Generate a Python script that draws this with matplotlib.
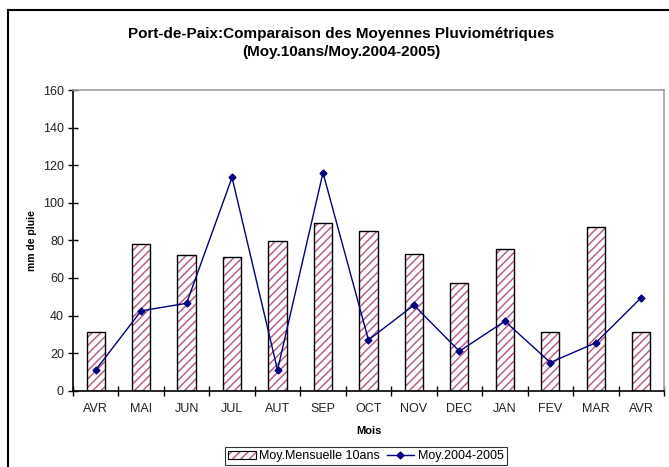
import numpy as np
import matplotlib
matplotlib.use('Agg')
import matplotlib.pyplot as plt
from matplotlib.lines import Line2D

plt.rcParams['font.family'] = ['Liberation Sans', 'DejaVu Sans']
plt.rcParams['hatch.linewidth'] = 1.1

mois = ['AVR', 'MAI', 'JUN', 'JUL', 'AUT', 'SEP', 'OCT',
        'NOV', 'DEC', 'JAN', 'FEV', 'MAR', 'AVR']
moy_10ans = [31, 78, 72, 71, 79.5, 89, 85, 72.5, 57.5, 75.5, 31, 87, 31]
moy_2004_2005 = [11, 42.5, 46.5, 113.5, 11, 116, 27, 45.5, 21, 37, 15, 25.5, 49.5]

hatch_clr = '#b8608c'
line_clr = '#000080'

fig = plt.figure(figsize=(6.69, 4.67), dpi=100)
ax = fig.add_axes([0.109, 0.1634, 0.8835, 0.6438])

x = np.arange(len(mois))
ax.bar(x, moy_10ans, width=0.4, color='white', edgecolor=hatch_clr,
       hatch='////', linewidth=0, zorder=2)
ax.bar(x, moy_10ans, width=0.4, fill=False, edgecolor='black',
       linewidth=1.0, zorder=3)
ax.plot(x, moy_2004_2005, '-', color=line_clr, lw=1.0, marker='D', ms=3.5,
        zorder=4)

ax.set_xlim(-0.5, len(mois) - 0.5)
ax.set_ylim(0, 160)
ax.set_yticks(np.arange(0, 161, 20))
ax.set_xticks(np.arange(-0.5, len(mois), 1.0))
ax.set_xticklabels([])
ax.set_xticks(x, minor=True)
ax.set_xticklabels(mois, minor=True)
ax.tick_params(axis='x', which='minor', length=0, pad=9, labelsize=9,
               labelcolor='#222222')
ax.tick_params(axis='x', which='major', direction='inout', length=7, width=1)
ax.tick_params(axis='y', direction='inout', length=7, width=1, labelsize=9,
               pad=3, labelcolor='#222222')

for s in ['top', 'right']:
    ax.spines[s].set_color('#a0a0a0')
    ax.spines[s].set_linewidth(1.2)
for s in ['left', 'bottom']:
    ax.spines[s].set_linewidth(1.2)

ax.set_xlabel('Mois', fontsize=8, fontweight='bold', labelpad=8)
ax.set_ylabel('mm de pluie', fontsize=7.5, fontweight='bold', labelpad=4)

fig.text(0.51, 0.927, 'Port-de-Paix:Comparaison des Moyennes Pluviométriques',
         ha='center', va='center', fontsize=11, fontweight='bold')
fig.text(0.51, 0.888, '(Moy.10ans/Moy.2004-2005)',
         ha='center', va='center', fontsize=11, fontweight='bold')

h_bar = plt.Rectangle((0, 0), 1, 1, facecolor='white', edgecolor=hatch_clr,
                      hatch='////', linewidth=0)
h_bar2 = plt.Rectangle((0, 0), 1, 1, fill=False, edgecolor='black', linewidth=0.8)
h_line = Line2D([], [], color=line_clr, lw=1.0, marker='D', ms=3.5)
leg = fig.legend([(h_bar, h_bar2), h_line],
                 ['Moy.Mensuelle 10ans', 'Moy.2004-2005'],
                 loc='upper center', bbox_to_anchor=(0.547, 0.043), ncol=2,
                 fontsize=9, frameon=True, fancybox=False, handlelength=2.2,
                 handleheight=0.6, columnspacing=0.5, handletextpad=0.3,
                 borderpad=0.25, borderaxespad=0)
leg.get_frame().set_edgecolor('black')
leg.get_frame().set_linewidth(0.8)

# outer frame (left and top edges)
fig.add_artist(Line2D([0.012, 0.012], [0.0, 0.979], color='black', lw=1.5,
                      transform=fig.transFigure))
fig.add_artist(Line2D([0.012, 1.0], [0.979, 0.979], color='black', lw=1.5,
                      transform=fig.transFigure))

fig.savefig('out.png', dpi=100)
